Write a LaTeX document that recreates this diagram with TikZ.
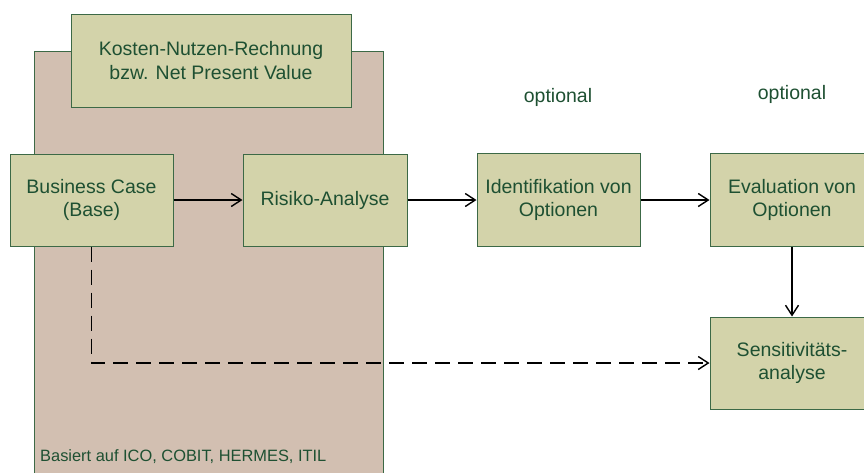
\documentclass[tikz,border=0pt]{standalone}
\usepackage{fontspec}
\setmainfont{Liberation Sans}
\usetikzlibrary{arrows.meta}
\definecolor{boxfill}{RGB}{211,211,170}
\definecolor{boxline}{RGB}{60,105,70}
\definecolor{zonefill}{RGB}{210,191,177}
\definecolor{labelgreen}{RGB}{30,80,50}
\tikzset{
  stage/.style={draw=boxline, fill=boxfill, line width=1pt, align=center,
    text=labelgreen, font=\fontsize{19.5}{23.5}\selectfont, inner sep=0pt},
  note/.style={text=labelgreen, font=\fontsize{19.5}{23.5}\selectfont, inner sep=0pt},
  flow/.style={draw=black, line width=1.4pt, -{Straight Barb[length=10pt,width=13pt,line width=1.4pt]}},
  optflow/.style={flow, dash pattern=on 15pt off 8pt}
}
\begin{document}
\begin{tikzpicture}[x=1pt, y=-1pt]
\useasboundingbox (0,0) rectangle (864,472);
\begin{scope}
\clip (0,0) rectangle (864,472);
% shaded zone behind the core steps
\path[draw=boxline, fill=zonefill, line width=1pt] (34,51) rectangle (383,490);
\node[note, font=\fontsize{16.4}{19}\selectfont, anchor=base west] (basis) at (40,461) {Basiert auf ICO, COBIT, HERMES, ITIL};
% process steps
\node[stage, minimum width=280pt, minimum height=93pt] (kosten) at (211,60.5) {Kosten-Nutzen-Rechnung\\bzw. Net Present Value};
\node[stage, minimum width=163pt, minimum height=92pt] (bc) at (91.5,200) {Business Case\\(Base)};
\node[stage, minimum width=164pt, minimum height=92pt] (risk) at (325,200) {Risiko-Analyse};
\node[stage, minimum width=163pt, minimum height=93pt] (ident) at (558.5,200) {Identifikation von\\Optionen};
\node[stage, minimum width=164pt, minimum height=93pt] (eval) at (792,200) {Evaluation von\\Optionen};
\node[stage, minimum width=164pt, minimum height=92pt] (sens) at (792,363) {Sensitivitäts-\\analyse};
% labels for the optional steps
\node[note] (opt1) at (558,97) {optional};
\node[note] (opt2) at (792,94) {optional};
% connectors
\draw[flow] (bc) -- (risk);
\draw[flow] (risk) -- (ident);
\draw[flow] (ident) -- (eval);
\draw[flow] (eval) -- (sens);
\draw[optflow] (bc.south) -- (bc.south |- sens.west) -- (sens.west);
\end{scope}
\end{tikzpicture}
\end{document}
